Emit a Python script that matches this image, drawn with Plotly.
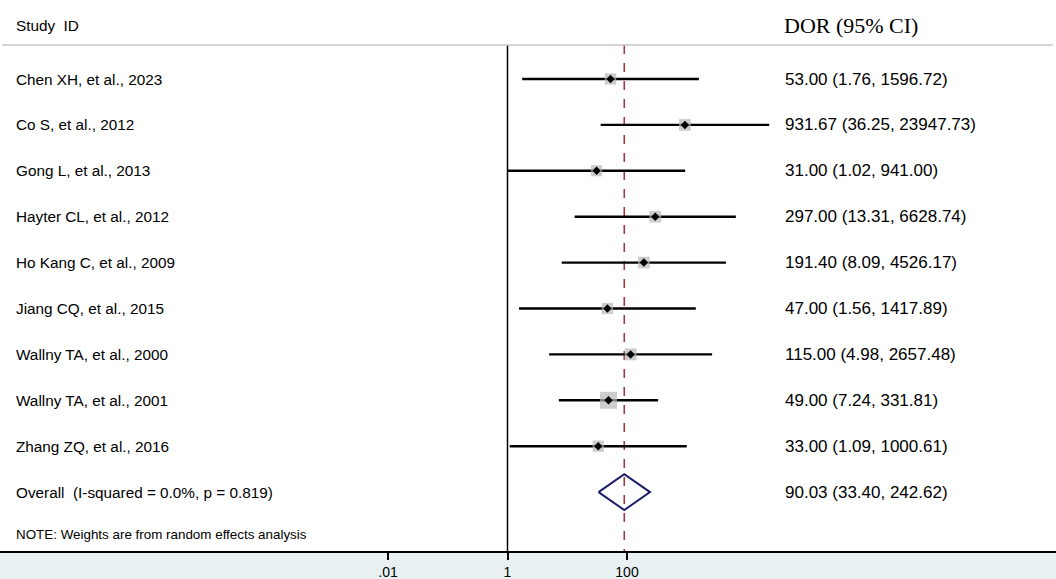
import plotly.graph_objects as go

studies = [
    "Chen XH, et al., 2023",
    "Co S, et al., 2012",
    "Gong L, et al., 2013",
    "Hayter CL, et al., 2012",
    "Ho Kang C, et al., 2009",
    "Jiang CQ, et al., 2015",
    "Wallny TA, et al., 2000",
    "Wallny TA, et al., 2001",
    "Zhang ZQ, et al., 2016",
]
dor = [53.00, 931.67, 31.00, 297.00, 191.40, 47.00, 115.00, 49.00, 33.00]
ci_low = [1.76, 36.25, 1.02, 13.31, 8.09, 1.56, 4.98, 7.24, 1.09]
ci_high = [1596.72, 23947.73, 941.00, 6628.74, 4526.17, 1417.89, 2657.48, 331.81, 1000.61]
# approximate weights (%)
weights = [9.0, 9.5, 8.5, 9.5, 9.5, 8.8, 9.8, 20.0, 8.8]

overall_label = "Overall  (I-squared = 0.0%, p = 0.819)"
overall = 90.03
overall_low = 33.40
overall_high = 242.62
note = "NOTE: Weights are from random effects analysis"

tick_vals = [0.01, 1, 100]
tick_text = [".01", "1", "100"]

W, H = 1056, 579
row0_px, row_px = 79, 45.9  # pixel y of first row and row spacing
plot_bottom_px = 551
axis_top = (45 - row0_px) / row_px
axis_bottom = (plot_bottom_px - row0_px) / row_px

rows = list(range(len(studies)))
overall_row = len(studies)
note_row = overall_row + 1

fig = go.Figure()

# null line at 1
fig.add_trace(go.Scatter(x=[1, 1], y=[axis_top, axis_bottom], mode="lines",
                         line=dict(color="black", width=1.5), hoverinfo="skip"))
# overall estimate line
fig.add_trace(go.Scatter(x=[overall, overall], y=[axis_top, axis_bottom], mode="lines",
                         line=dict(color="#9e3a40", width=1.6, dash="dash"), hoverinfo="skip"))

# confidence intervals
cx, cy = [], []
for r, lo, hi in zip(rows, ci_low, ci_high):
    cx += [lo, hi, None]
    cy += [r, r, None]
fig.add_trace(go.Scatter(x=cx, y=cy, mode="lines",
                         line=dict(color="black", width=2.4), hoverinfo="skip"))

# weight boxes
fig.add_trace(go.Scatter(x=dor, y=rows, mode="markers",
                         marker=dict(symbol="square", color="#b8b8b8",
                                     size=[3.8 * w ** 0.5 for w in weights],
                                     line=dict(width=0))))
# point estimates
fig.add_trace(go.Scatter(x=dor, y=rows, mode="markers",
                         marker=dict(symbol="diamond", color="black", size=6.5)))

# overall diamond
h = 0.39
fig.add_trace(go.Scatter(
    x=[overall_low, overall, overall_high, overall, overall_low],
    y=[overall_row, overall_row - h, overall_row, overall_row + h, overall_row],
    mode="lines", line=dict(color="#1b1b6b", width=2), hoverinfo="skip"))

# top rule
fig.add_shape(type="line", xref="paper", x0=0.002, x1=0.997, yref="y",
              y0=axis_top, y1=axis_top, line=dict(color="#c4c4c4", width=1.5))

sans = "Liberation Sans, Arial, sans-serif"
label_size = 15.3
value_size = 17
ann = []
ann.append(dict(x=14 / W, y=1 - 26 / H, xref="paper", yref="paper", text="Study  ID",
                showarrow=False, xanchor="left", yanchor="middle",
                font=dict(family=sans, size=label_size)))
ann.append(dict(x=782 / W, y=1 - 25 / H, xref="paper", yref="paper", text="DOR (95% CI)",
                showarrow=False, xanchor="left", yanchor="middle",
                font=dict(family="Liberation Serif, Times New Roman, serif", size=22)))
for r, name, d, lo, hi in zip(rows, studies, dor, ci_low, ci_high):
    ann.append(dict(x=14 / W, y=r, xref="paper", yref="y", text=name, showarrow=False,
                    xanchor="left", yanchor="middle", font=dict(family=sans, size=label_size)))
    ann.append(dict(x=783 / W, y=r, xref="paper", yref="y",
                    text=f"{d:.2f} ({lo:.2f}, {hi:.2f})", showarrow=False,
                    xanchor="left", yanchor="middle", font=dict(family=sans, size=value_size)))
ann.append(dict(x=14 / W, y=overall_row, xref="paper", yref="y", text=overall_label,
                showarrow=False, xanchor="left", yanchor="middle",
                font=dict(family=sans, size=label_size)))
ann.append(dict(x=783 / W, y=overall_row, xref="paper", yref="y",
                text=f"{overall:.2f} ({overall_low:.2f}, {overall_high:.2f})",
                showarrow=False, xanchor="left", yanchor="middle",
                font=dict(family=sans, size=value_size)))
ann.append(dict(x=14 / W, y=note_row - 0.07, xref="paper", yref="y", text=note,
                showarrow=False, xanchor="left", yanchor="middle",
                font=dict(family=sans, size=13.4)))

px_per_dec = 59.75
x_one_px = 507.5
fig.update_layout(
    width=W, height=H,
    margin=dict(l=0, r=0, t=0, b=0, autoexpand=False),
    paper_bgcolor="#e9f0f2",
    plot_bgcolor="white",
    showlegend=False,
    annotations=ann,
    font=dict(family=sans, color="black"),
    xaxis=dict(type="log", range=[-x_one_px / px_per_dec, (W - x_one_px) / px_per_dec],
               tickvals=tick_vals, ticktext=tick_text, showgrid=False, zeroline=False,
               showline=True, linecolor="black", linewidth=2, ticks="outside",
               ticklen=7, tickwidth=1.5, tickcolor="black", automargin=False,
               ticklabelstandoff=0,
               tickfont=dict(family=sans, size=14, color="black"), domain=[0, 1]),
    yaxis=dict(range=[axis_bottom, -row0_px / row_px], visible=False, automargin=False,
               domain=[1 - plot_bottom_px / H, 1]),
)

fig.write_html("out.html", config={"displayModeBar": False},
               post_script="document.body.style.margin='0';document.body.style.overflow='hidden';")
